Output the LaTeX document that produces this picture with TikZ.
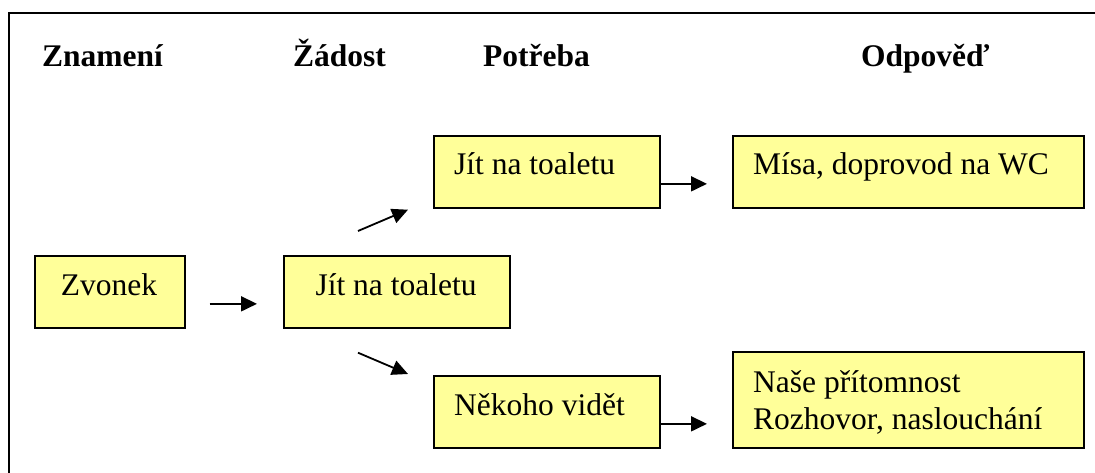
\documentclass[tikz,border=0pt]{standalone}
\usepackage{fontspec}
\setmainfont{Liberation Serif}
\newfontfamily\timesf{Liberation Serif}
\usetikzlibrary{arrows.meta}
\definecolor{boxyellow}{HTML}{FFFF99}
\begin{document}
\begin{tikzpicture}[x=1pt,y=-1pt,
  box/.style={draw=black, line width=1.7pt, fill=boxyellow, anchor=north west, inner sep=0pt},
  lbl/.style={font=\timesf\fontsize{31.5}{37}\selectfont, inner sep=0pt},
  hdr/.style={anchor=base west, font=\timesf\fontsize{31.5}{37}\selectfont\bfseries, inner sep=0pt},
  arr/.style={line width=1.8pt, -{Triangle[length=16pt,width=15pt]}}]
\useasboundingbox (0,0) rectangle (1095,473);
% frame (open to the right and bottom)
\draw[line width=2pt] (1105,13) -- (9,13) -- (9,483);
% headers
\node[hdr] (h1) at (42,67) {Znamení};
\node[hdr] (h2) at (293,67) {Žádost};
\node[hdr] (h3) at (483,67) {Potřeba};
\node[hdr] (h4) at (861,67) {Odpověď};
% boxes
\node[box, minimum width=150pt, minimum height=72pt] (zv) at (34,255) {};
\node[box, minimum width=226pt, minimum height=72pt] (mid) at (283,255) {};
\node[box, minimum width=226pt, minimum height=72pt] (top) at (433,135) {};
\node[box, minimum width=351pt, minimum height=72pt] (misa) at (732,135) {};
\node[box, minimum width=226pt, minimum height=72pt] (nek) at (433,375) {};
\node[box, minimum width=351pt, minimum height=96pt] (nase) at (732,351) {};
% texts
\node[lbl, anchor=base] (tzv) at (109,295) {Zvonek};
\node[lbl, anchor=base] (tmid) at (396,295) {Jít na toaletu};
\node[lbl, anchor=base west] (ttop) at (454,175) {Jít na toaletu};
\node[lbl, anchor=base west] (tmisa) at (753,175) {Mísa, doprovod na WC};
\node[lbl, anchor=base west] (tnek) at (454,415) {Někoho vidět};
\node[lbl, anchor=base west] (tnase1) at (753,392) {Naše přítomnost};
\node[lbl, anchor=base west] (tnase2) at (753,429) {Rozhovor, naslouchání};
% connectors
\draw[arr] ([shift={(24,12)}]zv.east) -- ([shift={(-26,12)}]mid.west);
\draw[arr] ([shift={(75,-24)}]mid.north west) -- ([shift={(-25,1)}]top.south west);
\draw[arr] ([shift={(75,24)}]mid.south west) -- ([shift={(-25,-1)}]nek.north west);
\draw[arr] ([shift={(0,12)}]top.east) -- ([shift={(-25,12)}]misa.west);
\draw[arr] ([shift={(0,12)}]nek.east) -- ([shift={(-25,24)}]nase.west);
\end{tikzpicture}
\end{document}
